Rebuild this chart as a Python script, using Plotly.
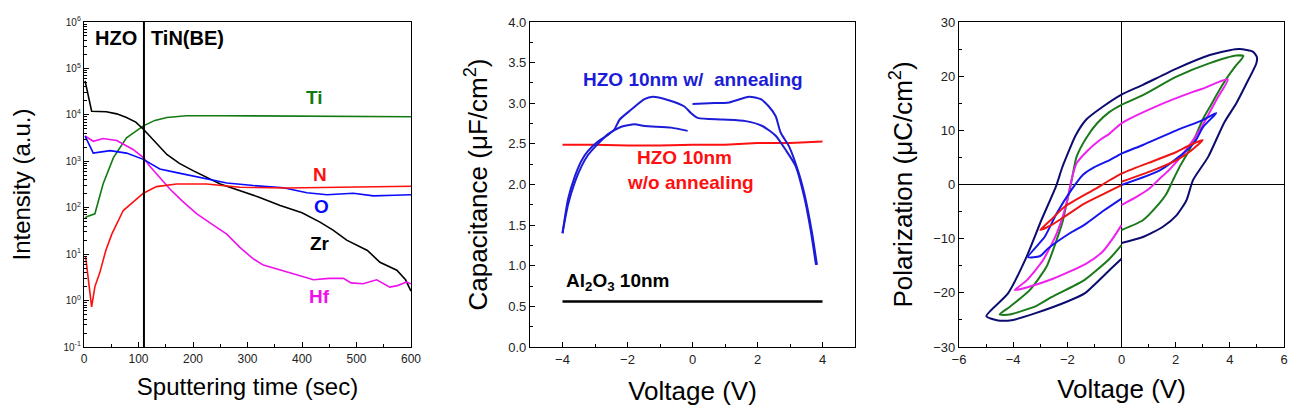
import plotly.graph_objects as go

FONT = "Arial, Liberation Sans, sans-serif"

# ---------------- Panel 1: depth profile (sputtering time vs intensity) -------------
ti_time = [2, 6, 20, 35, 54, 78, 109, 130, 152, 188, 250, 300, 350, 400, 450, 500, 550, 600]
ti_int = [60, 65, 74, 325, 1200, 3200, 5800, 7600, 8800, 9600, 9600, 9500, 9400, 9200, 9300, 9100, 9200, 9100]

zr_time = [2, 14, 41, 60, 78, 95, 109, 130, 152, 175, 200, 250, 286, 320, 360, 400, 433, 457, 482, 520,
           543, 574, 590, 600]
zr_int = [54000, 12000, 11700, 10500, 8800, 7000, 4900, 2600, 1400, 900, 630, 325, 234, 170, 112, 78, 49,
          33, 20, 12, 6.7, 4.5, 2.8, 1.6]

hf_time = [2, 10, 17, 35, 60, 90, 109, 120, 139, 158, 180, 207, 240, 262, 286, 310, 329, 350, 384, 421,
           450, 476, 490, 512, 537, 561, 575, 592, 600]
hf_int = [3500, 3000, 2700, 3100, 2800, 1800, 1200, 800, 450, 250, 140, 74, 40, 27, 14, 8, 5.8, 5.0, 3.8,
          2.8, 3.0, 3.0, 2.4, 2.3, 2.8, 1.95, 2.1, 2.5, 2.3]

o_time = [2, 17, 48, 78, 109, 139, 170, 213, 262, 311, 366, 409, 446, 494, 531, 570, 600]
o_int = [3500, 1500, 1700, 1500, 1100, 680, 570, 450, 340, 300, 270, 210, 190, 205, 180, 185, 190]

n_time = [3, 9, 14, 20, 29, 40, 51, 72, 90, 109, 133, 170, 225, 286, 372, 457, 520, 600]
n_int = [8.7, 2.5, 0.73, 2.0, 4.0, 12, 27, 87, 130, 205, 285, 325, 325, 275, 265, 275, 280, 290]

boundary_time = 110

intensity_tickvals = [1e-1, 1e0, 1e1, 1e2, 1e3, 1e4, 1e5, 1e6]
intensity_ticktext = ["10<sup>-1</sup>", "10<sup>0</sup>", "10<sup>1</sup>", "10<sup>2</sup>",
                      "10<sup>3</sup>", "10<sup>4</sup>", "10<sup>5</sup>", "10<sup>6</sup>"]

# ---------------- Panel 2: C-V ----------------
cv_a_v = [-4.0, -3.83, -3.62, -3.42, -3.22, -2.91, -2.6, -2.4, -2.19, -1.78, -1.48, -0.66, -0.15]
cv_a_c = [1.40, 1.75, 2.03, 2.22, 2.36, 2.50, 2.62, 2.67, 2.71, 2.74, 2.72, 2.70, 2.66]

cv_b_v = [-4.0, -3.83, -3.62, -3.42, -3.22, -2.91, -2.6, -2.4, -2.24, -1.89, -1.48, -1.22, -0.76, -0.25,
          -0.05, 0.16, 0.92, 1.64, 2.15, 2.56, 2.86, 3.17, 3.43, 3.63, 3.80]
cv_b_c = [1.40, 1.82, 2.10, 2.29, 2.41, 2.53, 2.61, 2.68, 2.80, 2.92, 3.05, 3.08, 3.04, 2.96, 2.88, 2.82,
          2.80, 2.78, 2.72, 2.60, 2.43, 2.23, 1.86, 1.45, 1.01]

cv_c_v = [0.0, 0.51, 1.13, 1.74, 2.10, 2.35, 2.56, 2.71, 2.97, 3.27, 3.48, 3.68, 3.83]
cv_c_c = [2.99, 3.00, 3.01, 3.08, 3.05, 2.96, 2.84, 2.64, 2.47, 2.14, 1.82, 1.40, 1.01]

cv_noanneal_v = [-4, -3, -2, -1, 0, 1, 2, 3, 4]
cv_noanneal_c = [2.49, 2.49, 2.48, 2.48, 2.49, 2.49, 2.51, 2.51, 2.53]

cv_al2o3_v = [-4, 4]
cv_al2o3_c = [0.56, 0.56]

# ---------------- Panel 3: P-V loops ----------------
pv_navy_v = [0, 0.79, 1.53, 2.03, 2.4, 2.64, 3.2, 3.8, 4.24, 4.6, 4.98, 5.0, 4.86, 4.36, 4.0, 3.26, 2.03,
             0.79, 0, -0.68, -1.30, -1.7, -2.0, -2.2, -2.4, -2.96, -3.51, -4.19, -4.99, -4.56, -4.0, -3.2,
             -2.0, -1.36, -0.44, 0]
pv_navy_p = [-10.8, -9.7, -7.8, -5.7, -2.9, 0.8, 5.1, 11.5, 15.0, 18.5, 22.4, 23.5, 24.5, 25.0, 24.8, 23.9,
             21.4, 18.4, 16.6, 14.4, 12.0, 9.0, 5.5, 3.0, -0.1, -6.6, -13.4, -20.1, -24.3, -25.1, -25.0,
             -23.8, -21.6, -20.1, -15.8, -13.7]

pv_green_v = [0, 0.79, 1.29, 1.66, 1.9, 2.15, 2.52, 3.0, 3.26, 3.62, 3.87, 4.2, 4.5, 4.24, 3.26, 2.03, 0.79,
              0, -0.44, -0.9, -1.3, -1.66, -1.87, -2.05, -2.16, -2.4, -2.77, -3.39, -4.13, -4.5, -4.13,
              -3.14, -2.59, -1.36, -0.44, 0]
pv_green_p = [-8.4, -6.6, -4.1, -1.7, 0.8, 3.3, 6.5, 12.0, 14.3, 17.5, 19.5, 21.8, 23.7, 23.8, 22.4, 19.9,
              16.5, 14.7, 13.4, 11.3, 8.6, 5.1, 0, -4.0, -6.6, -10.3, -15.2, -19.5, -22.6, -24.0, -24.0,
              -22.4, -20.8, -17.6, -13.7, -11.2]

pv_magenta_v = [0, 0.55, 1.04, 1.35, 1.78, 2.4, 3.0, 3.5, 3.93, 3.62, 3.0, 2.64, 1.41, 0, -0.44, -0.8,
                -1.30, -1.66, -1.85, -2.03, -2.4, -2.9, -3.5, -3.94, -3.5, -2.53, -1.30, -0.7, -0.3, 0]
pv_magenta_p = [-3.8, -2.3, -0.7, 0.8, 2.8, 6.5, 11.0, 15.6, 19.4, 19.0, 17.7, 17.1, 14.7, 11.3, 9.4, 8.2,
                6.0, 3.9, 0.8, -3.5, -9.1, -14.0, -17.7, -19.5, -19.0, -17.4, -14.6, -12.4, -9.8, -7.5]

pv_blue_v = [0, 1.41, 2.27, 2.7, 3.01, 3.5, 3.0, 2.03, 0.79, 0, -0.44, -1.0, -1.42, -1.85, -2.4, -2.84,
             -3.45, -3.0, -2.71, -1.91, -1.36, -0.68, 0]
pv_blue_p = [-0.1, 2.6, 5.7, 7.8, 10.6, 13.2, 11.9, 10.0, 7.3, 5.7, 4.5, 3.2, 1.8, -1.0, -5.4, -9.7, -13.4,
             -13.2, -11.8, -9.0, -7.4, -4.9, -2.6]

pv_red_v = [0, 1.16, 2.03, 2.5, 3.0, 2.5, 2.03, 1.0, 0, -1.0, -2.1, -2.6, -3.0, -2.59, -2.0, -1.36, -0.6, 0]
pv_red_p = [0.5, 2.6, 4.5, 6.0, 8.2, 7.2, 6.0, 4.0, 2.0, -0.9, -4.1, -6.5, -8.4, -7.5, -5.6, -3.5, -1.6,
            -0.1]

fig = go.Figure()


def add_line(x, y, color, width, ax, shape="linear"):
    fig.add_trace(go.Scatter(x=x, y=y, mode="lines",
                             line=dict(color=color, width=width, shape=shape, smoothing=0.6),
                             xaxis="x" + ax, yaxis="y" + ax, showlegend=False, hoverinfo="skip"))


# panel 1
add_line(ti_time, ti_int, "#137a13", 1.6, "")
add_line(zr_time, zr_int, "black", 1.6, "")
add_line(hf_time, hf_int, "#ee11ee", 1.6, "")
add_line(o_time, o_int, "#0a0aff", 1.6, "")
add_line(n_time, n_int, "#ff1010", 1.6, "")

# panel 2
add_line(cv_noanneal_v, cv_noanneal_c, "#ff1010", 2, "2")
add_line(cv_a_v, cv_a_c, "#1c1cd8", 2, "2", "spline")
add_line(cv_b_v, cv_b_c, "#1c1cd8", 2, "2", "spline")
add_line(cv_c_v, cv_c_c, "#1c1cd8", 2, "2", "spline")
add_line(cv_al2o3_v, cv_al2o3_c, "black", 2.5, "2")

# panel 3
add_line(pv_navy_v, pv_navy_p, "#0c0c70", 2, "3", "spline")
add_line(pv_green_v, pv_green_p, "#1a7a1a", 2, "3", "spline")
add_line(pv_magenta_v, pv_magenta_p, "#ee22ee", 2, "3", "spline")
add_line(pv_blue_v, pv_blue_p, "#1515ee", 2, "3", "spline")
add_line(pv_red_v, pv_red_p, "#ee1515", 2, "3", "spline")

fig.add_shape(type="line", x0=boundary_time, x1=boundary_time, y0=0, y1=1, xref="x", yref="y domain",
              line=dict(color="black", width=2))

ydom = [64 / 411, 389 / 411]


def axis(domain, anchor, title, size, standoff, **kw):
    d = dict(domain=domain, anchor=anchor, showline=True, linecolor="black", linewidth=1.3, mirror=True,
             ticks="inside", ticklen=5, tickwidth=1, tickcolor="black", showgrid=False, zeroline=False,
             automargin=False, tickfont=dict(size=13, color="#222", family=FONT),
             title=dict(text=title, font=dict(size=size, color="black", family=FONT), standoff=standoff))
    d.update(kw)
    return d


fig.update_layout(
    width=1300, height=411, margin=dict(l=0, r=0, t=0, b=0),
    paper_bgcolor="white", plot_bgcolor="white", showlegend=False,
    font=dict(family=FONT, color="black"),
    xaxis=axis([84 / 1300, 411 / 1300], "y", "Sputtering time (sec)", 24, 13,
               range=[0, 600], dtick=100, tick0=0, tickfont=dict(size=12, color="#222", family=FONT),
               minor=dict(ticks="inside", dtick=50, ticklen=3, tickcolor="black")),
    yaxis=axis(ydom, "x", "Intensity (a.u.)", 24, 26, type="log", range=[-1, 6],
               tickvals=intensity_tickvals, ticktext=intensity_ticktext,
               tickfont=dict(size=10, color="#222", family=FONT),
               minor=dict(ticks="inside", dtick="D1", ticklen=3, tickcolor="black")),
    xaxis2=axis([530 / 1300, 855 / 1300], "y2", "Voltage (V)", 26, 16, range=[-5, 5], dtick=2, tick0=0,
                minor=dict(ticks="inside", dtick=1, ticklen=3, tickcolor="black")),
    yaxis2=axis(ydom, "x2", "Capacitance (\u03bcF/cm<sup>2</sup>)", 26, 13, range=[0, 4], dtick=0.5,
                tickformat=".1f", minor=dict(ticks="inside", dtick=0.25, ticklen=3, tickcolor="black")),
    xaxis3=axis([959 / 1300, 1284 / 1300], "y3", "Voltage (V)", 26, 14, range=[-6, 6], dtick=2, tick0=0,
                minor=dict(ticks="inside", dtick=1, ticklen=3, tickcolor="black"),
                zeroline=True, zerolinecolor="black", zerolinewidth=1),
    yaxis3=axis(ydom, "x3", "Polarization (\u03bcC/cm<sup>2</sup>)", 26, 13, range=[-30, 30], dtick=10,
                minor=dict(ticks="inside", dtick=5, ticklen=3, tickcolor="black"),
                zeroline=True, zerolinecolor="black", zerolinewidth=1),
)

# text labels
labels1 = [("HZO", 58, 5.66, "black"), ("TiN(BE)", 189, 5.66, "black"), ("Ti", 423, 4.37, "#137a13"),
           ("N", 433, 2.71, "#ff1010"), ("O", 435, 2.03, "#0a0aff"), ("Zr", 433, 1.23, "black"),
           ("Hf", 433, 0.09, "#ee11ee")]
for text, x, y, c in labels1:
    fig.add_annotation(text="<b>%s</b>" % text, x=x, y=y, xref="x", yref="y", showarrow=False,
                       font=dict(size=20 if text in ("HZO", "TiN(BE)") else 19, color=c, family=FONT))

fig.add_annotation(text="<b>HZO 10nm w/\u00a0 annealing</b>", x=0.0, y=3.29, xref="x2", yref="y2",
                   showarrow=False, font=dict(size=19, color="#1c1cd8", family=FONT))
fig.add_annotation(text="<b>HZO 10nm</b>", x=-0.25, y=2.33, xref="x2", yref="y2",
                   showarrow=False, font=dict(size=19, color="#ff1010", family=FONT))
fig.add_annotation(text="<b>w/o annealing</b>", x=-0.05, y=2.02, xref="x2", yref="y2",
                   showarrow=False, font=dict(size=19, color="#ff1010", family=FONT))
fig.add_annotation(text="<b>Al<sub>2</sub>O<sub>3</sub> 10nm</b>", x=-3.96, y=0.80, xref="x2", yref="y2",
                   xanchor="left", showarrow=False, font=dict(size=19, color="black", family=FONT))

fig.write_html("out.html", config={"displayModeBar": False},
               post_script="document.body.style.margin='0';")
